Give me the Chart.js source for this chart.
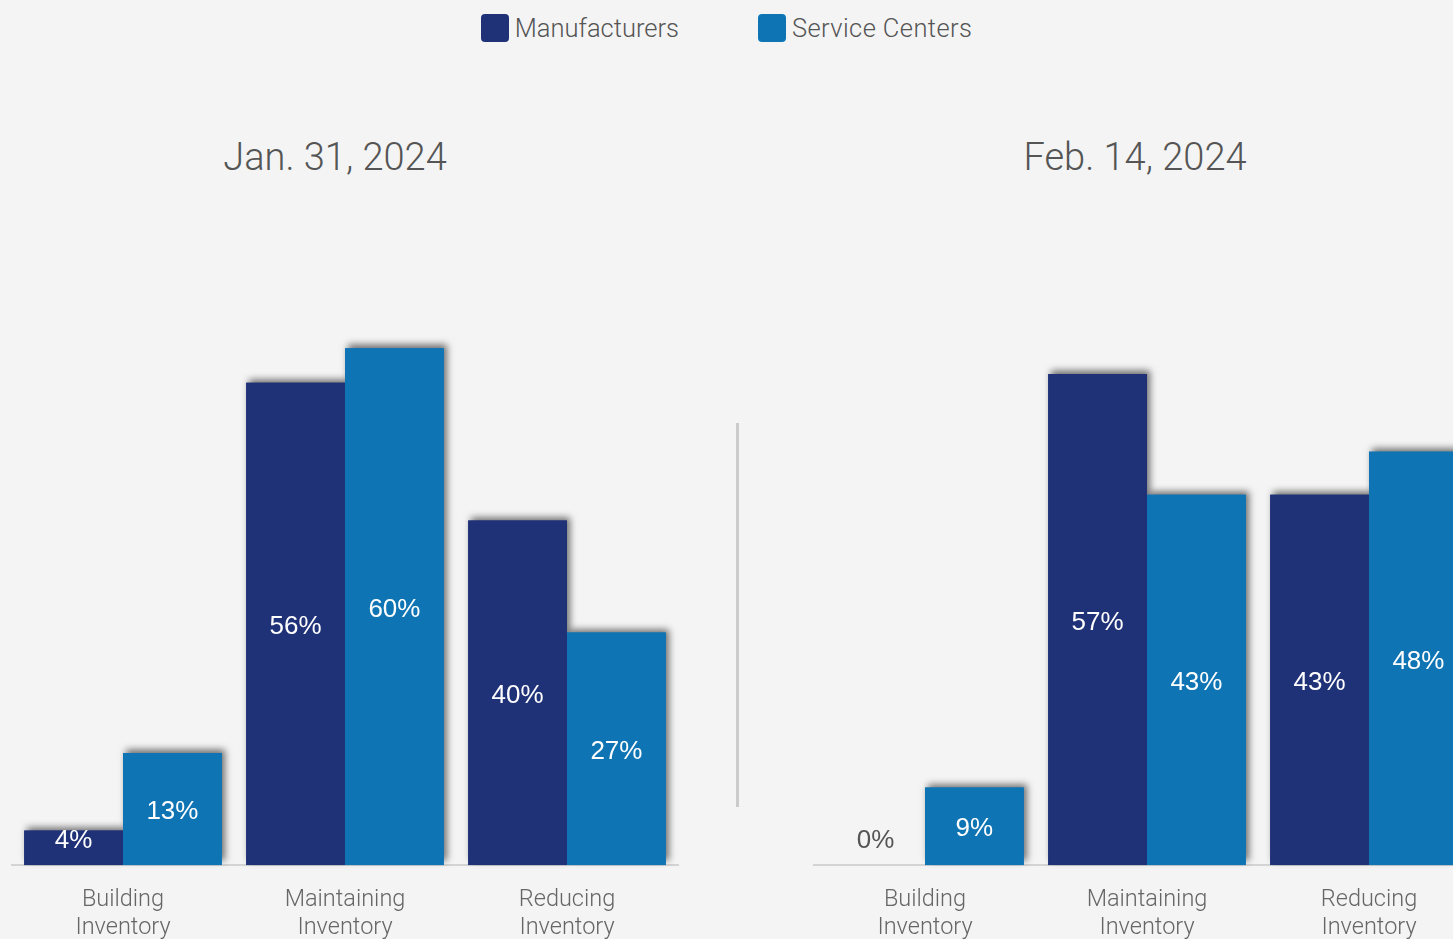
<!DOCTYPE html>
<html>
<head>
<meta charset="utf-8">
<title>Inventory plans</title>
<script src="https://cdn.jsdelivr.net/npm/chart.js@4.4.1/dist/chart.umd.min.js"></script>
<style>
  html, body { margin: 0; padding: 0; }
  body {
    width: 1453px; height: 939px; overflow: hidden; position: relative;
    background: #f4f4f4; font-family: Roboto, "Liberation Sans", sans-serif; font-weight: 300; color: #555;
  }
  .legend { position: absolute; top: 13px; left: 0; width: 1453px; display: flex; justify-content: center; gap: 79px; font-size: 25.5px; }
  .legend span { display: flex; align-items: center; }
  .legend i { display: inline-block; width: 28px; height: 28px; border-radius: 4px; margin-right: 6px; }
  .legend span:last-child { letter-spacing: 0.4px; }
  .title { position: absolute; top: 135px; width: 600px; text-align: center; font-size: 38px; color: #555; }
  .divider { position: absolute; left: 736px; top: 423px; width: 3px; height: 384px; background: #cbcbcb; }
  canvas { position: absolute; top: 0; }
</style>
</head>
<body>
<div class="legend">
  <span><i style="background:#1f3177"></i>Manufacturers</span>
  <span><i style="background:#0f74b3"></i>Service Centers</span>
</div>
<div class="title" style="left:35px">Jan. 31, 2024</div>
<div class="title" style="left:835px">Feb. 14, 2024</div>
<div class="divider"></div>
<canvas id="janChart" width="690" height="963" style="left:0"></canvas>
<canvas id="febChart" width="690" height="963" style="left:802px"></canvas>
<script>
const categories = [['Building', 'Inventory'], ['Maintaining', 'Inventory'], ['Reducing', 'Inventory']];
const seriesNames = ['Manufacturers', 'Service Centers'];
const janManufacturers = [4, 56, 40];
const janServiceCenters = [13, 60, 27];
const febManufacturers = [0, 57, 43];
const febServiceCenters = [9, 43, 48];

const NAVY = '#1f3177';
const BLUE = '#0f74b3';

// soft drop shadow: painted under all bars first so neighbours cover it
const barShadow = {
  id: 'barShadow',
  beforeDatasetsDraw(chart) {
    const ctx = chart.ctx;
    ctx.save();
    ctx.shadowColor = 'rgba(0,0,0,0.55)';
    ctx.shadowBlur = 7;
    ctx.shadowOffsetX = 3;
    ctx.shadowOffsetY = -4;
    chart.data.datasets.forEach((ds, i) => {
      ctx.fillStyle = ds.backgroundColor;
      chart.getDatasetMeta(i).data.forEach(bar => {
        const h = bar.base - bar.y;
        if (h <= 0) return;
        ctx.fillRect(bar.x - bar.width / 2, bar.y, bar.width, h);
      });
    });
    ctx.restore();
  }
};

// percentage labels in the middle of each bar
const valueLabels = {
  id: 'valueLabels',
  afterDatasetsDraw(chart) {
    const ctx = chart.ctx;
    ctx.save();
    ctx.font = '26px "Liberation Sans", Arial, sans-serif';
    ctx.textAlign = 'center';
    ctx.textBaseline = 'middle';
    chart.data.datasets.forEach((ds, i) => {
      chart.getDatasetMeta(i).data.forEach((bar, j) => {
        const v = ds.data[j];
        const mid = (bar.y + bar.base) / 2;
        ctx.fillStyle = v > 0 ? '#ffffff' : '#555555';
        ctx.fillText(v + '%', bar.x, Math.min(mid + 3, bar.base - 24));
      });
    });
    ctx.restore();
  }
};

function makeChart(id, manufacturers, serviceCenters) {
  return new Chart(document.getElementById(id), {
    type: 'bar',
    data: {
      labels: categories,
      datasets: [
        { label: seriesNames[0], data: manufacturers, backgroundColor: NAVY },
        { label: seriesNames[1], data: serviceCenters, backgroundColor: BLUE }
      ]
    },
    options: {
      responsive: false,
      animation: false,
      devicePixelRatio: 1,
      layout: { padding: { top: 176, left: 12, right: 12, bottom: 0 } },
      datasets: { bar: { categoryPercentage: 0.89, barPercentage: 1 } },
      plugins: { legend: { display: false }, tooltip: { enabled: false } },
      scales: {
        x: {
          grid: { display: false, drawTicks: false },
          border: { color: '#d4d4d4', width: 2 },
          ticks: {
            color: '#666',
            padding: 21,
            font: { family: 'Roboto, "Liberation Sans", sans-serif', size: 23.5, weight: 300, lineHeight: 1.19 }
          }
        },
        y: { display: false, min: 0, max: 80 }
      }
    },
    plugins: [barShadow, valueLabels]
  });
}

makeChart('janChart', janManufacturers, janServiceCenters);
makeChart('febChart', febManufacturers, febServiceCenters);
</script>
</body>
</html>
